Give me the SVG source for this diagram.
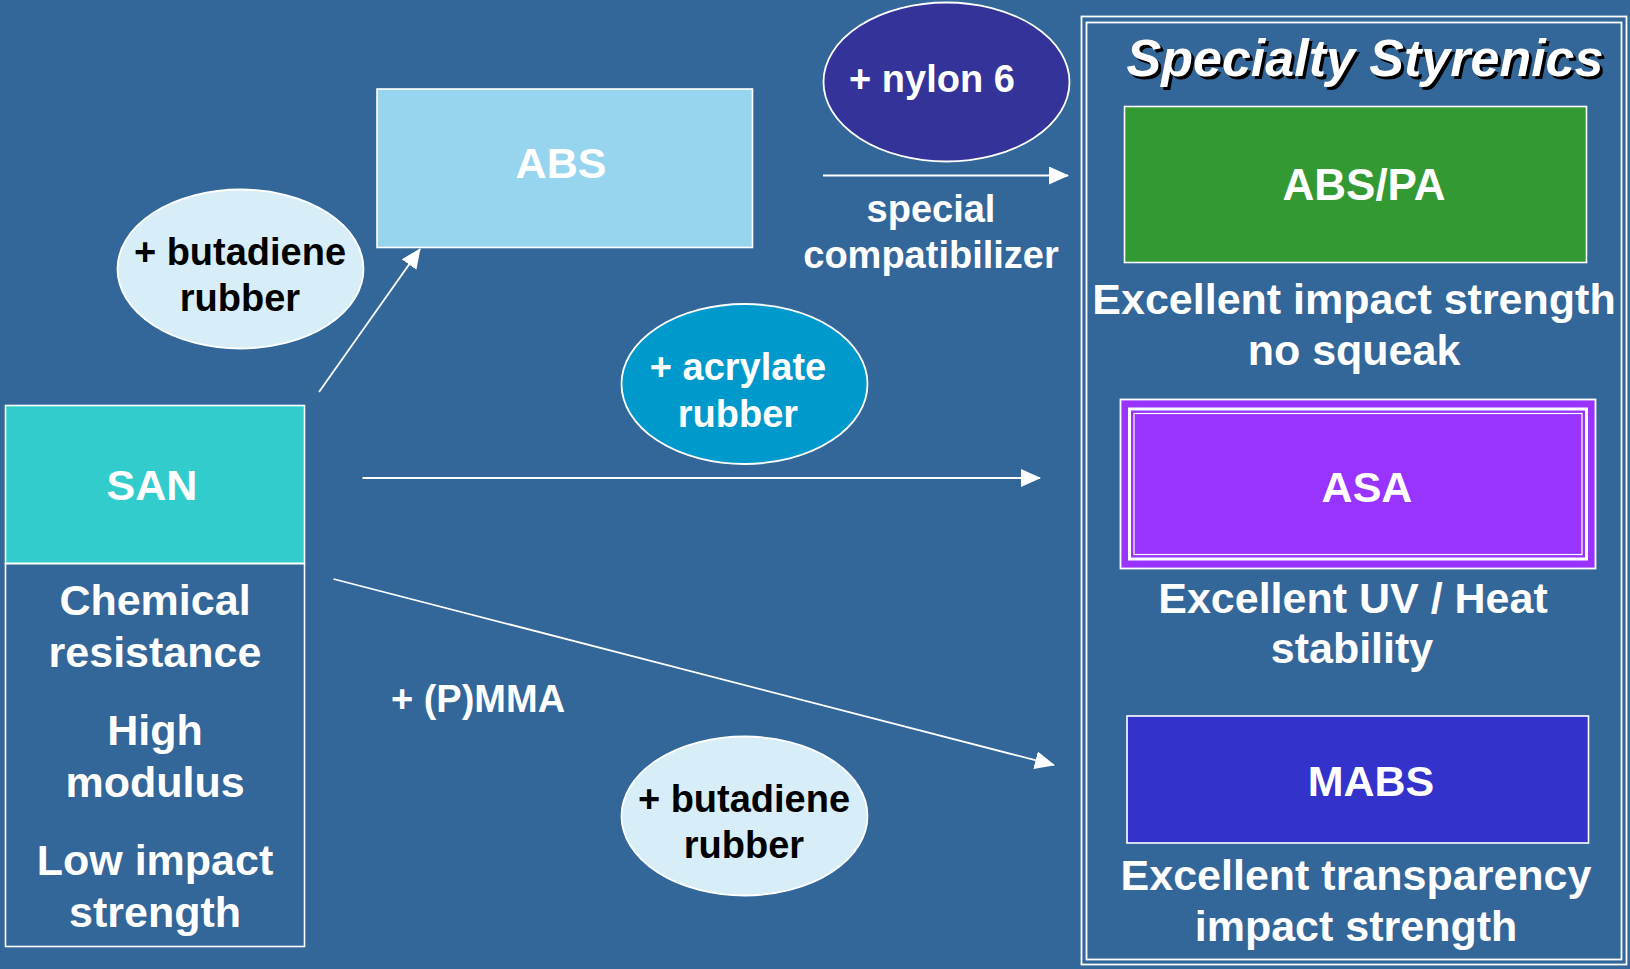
<svg xmlns="http://www.w3.org/2000/svg" width="1630" height="969" viewBox="0 0 1630 969">
<style>
text{font-family:"Liberation Sans",Arial,sans-serif;font-weight:bold;text-anchor:middle}
.w{fill:#ffffff}
.k{fill:#000000}
.f43{font-size:43px}
.f38{font-size:38px}
.box{stroke:#ffffff;stroke-width:1.6}
.ell{stroke:#ffffff;stroke-width:1.8}
.conn{stroke:#ffffff;stroke-width:1.8;fill:none;marker-end:url(#ah)}
.frame{fill:none;stroke:#ffffff;stroke-width:1.8}
</style>
<defs>
<marker id="ah" markerUnits="userSpaceOnUse" viewBox="0 0 20 18" markerWidth="20" markerHeight="18" refX="19" refY="9" orient="auto">
<path d="M0,0 L20,9 L0,18 Z" fill="#ffffff"/>
</marker>
</defs>
<rect x="0" y="0" width="1630" height="969" fill="#336699"/>

<g id="specialty-frame">
<rect class="frame" x="1081.5" y="16.5" width="545" height="948"/>
<rect class="frame" x="1086.5" y="22.5" width="535" height="937"/>
<text x="1368" y="79" font-size="52" font-style="italic" fill="#000000">Specialty Styrenics</text>
<text x="1365" y="76" font-size="52" font-style="italic" class="w">Specialty Styrenics</text>
</g>

<g id="abs-pa">
<rect class="box" x="1124.5" y="106.5" width="462" height="156" fill="#339933"/>
<text class="w" x="1364" y="200" font-size="44">ABS/PA</text>
<text class="w f43" x="1354" y="314">Excellent impact strength</text>
<text class="w f43" x="1354" y="365">no squeak</text>
</g>

<g id="asa">
<rect x="1120.5" y="399.5" width="475" height="169" fill="#9933FF" stroke="#ffffff" stroke-width="1.8"/>
<rect x="1129.5" y="409" width="457" height="150" fill="none" stroke="#ffffff" stroke-width="3"/>
<rect x="1134" y="413.5" width="448" height="141" fill="none" stroke="#ffffff" stroke-width="1.2"/>
<text class="w f43" x="1367" y="502">ASA</text>
<text class="w f43" x="1353" y="613">Excellent UV / Heat</text>
<text class="w f43" x="1352" y="663">stability</text>
</g>

<g id="mabs">
<rect class="box" x="1127" y="716" width="461.5" height="127" fill="#3333CC"/>
<text class="w f43" x="1371" y="796">MABS</text>
<text class="w f43" x="1356" y="890">Excellent transparency</text>
<text class="w f43" x="1356" y="941">impact strength</text>
</g>

<g id="san">
<rect class="box" x="5.5" y="405.5" width="299" height="158" fill="#33CCCC"/>
<rect class="box" x="5.5" y="563.5" width="299" height="383" fill="none"/>
<text class="w f43" x="152" y="500">SAN</text>
<text class="w f43" x="155" y="615">Chemical</text>
<text class="w f43" x="155" y="667">resistance</text>
<text class="w f43" x="155" y="745">High</text>
<text class="w f43" x="155" y="797">modulus</text>
<text class="w f43" x="155" y="875">Low impact</text>
<text class="w f43" x="155" y="927">strength</text>
</g>

<g id="abs">
<rect class="box" x="377" y="89" width="375.5" height="158.5" fill="#97D5EF"/>
<text class="w f43" x="561" y="178">ABS</text>
</g>

<g id="butadiene-top">
<ellipse class="ell" cx="240.5" cy="269" rx="123" ry="79.5" fill="#D7EEF8"/>
<text class="k f38" x="240" y="265">+ butadiene</text>
<text class="k f38" x="240" y="311">rubber</text>
</g>

<g id="nylon">
<ellipse class="ell" cx="946.5" cy="82" rx="123" ry="79.5" fill="#333399"/>
<text class="w f38" x="932" y="92">+ nylon 6</text>
</g>

<g id="acrylate">
<ellipse class="ell" cx="744.5" cy="384" rx="123" ry="80" fill="#0099CC"/>
<text class="w f38" x="738" y="380">+ acrylate</text>
<text class="w f38" x="738" y="427">rubber</text>
</g>

<g id="butadiene-bottom">
<ellipse class="ell" cx="744.5" cy="816" rx="123" ry="79.5" fill="#D7EEF8"/>
<text class="k f38" x="744" y="812">+ butadiene</text>
<text class="k f38" x="744" y="858">rubber</text>
</g>

<g id="labels">
<text class="w f38" x="931" y="222">special</text>
<text class="w f38" x="931" y="268">compatibilizer</text>
<text class="w f38" x="478" y="712">+ (P)MMA</text>
</g>

<g id="connectors">
<line class="conn" x1="319" y1="392" x2="420" y2="249"/>
<line class="conn" x1="823" y1="175.5" x2="1068" y2="175.5"/>
<line class="conn" x1="362.5" y1="478" x2="1040" y2="478"/>
<line class="conn" x1="333.5" y1="579" x2="1054" y2="765"/>
</g>
</svg>
